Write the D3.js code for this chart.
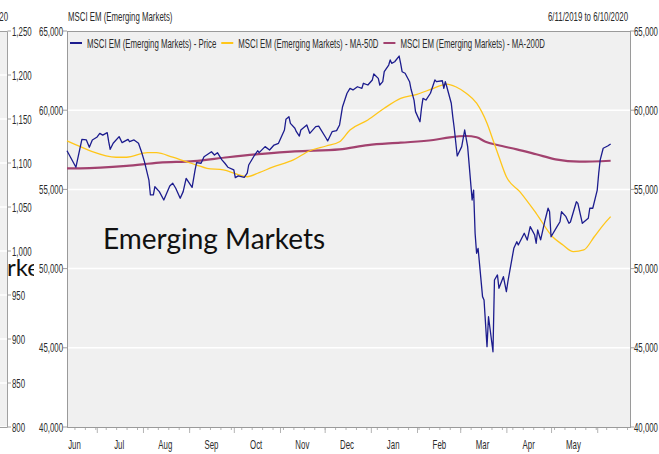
<!DOCTYPE html>
<html>
<head>
<meta charset="utf-8">
<script src="https://cdn.jsdelivr.net/npm/d3@7"></script>
<style>
  body { margin: 0; background: #fff; }
</style>
</head>
<body>
<svg width="659" height="454"></svg>
<script>

// values
var price = [
  ["2019-06-11",57440],["2019-06-17",56400],["2019-06-21",58160],["2019-06-24",58120],["2019-06-26",57660],
  ["2019-06-28",58120],["2019-07-01",58290],["2019-07-03",58540],["2019-07-05",58430],["2019-07-08",58580],
  ["2019-07-09",58010],["2019-07-10",57530],["2019-07-12",57910],["2019-07-16",58330],["2019-07-18",57950],
  ["2019-07-22",58160],["2019-07-23",58010],["2019-07-26",58120],["2019-07-29",57910],["2019-07-31",57380],
  ["2019-08-02",56750],["2019-08-05",55590],["2019-08-06",54650],["2019-08-08",54650],["2019-08-09",55170],
  ["2019-08-12",54860],["2019-08-15",54330],["2019-08-19",55220],["2019-08-21",55390],["2019-08-23",55070],
  ["2019-08-26",54440],["2019-08-28",54860],["2019-08-30",55700],["2019-09-03",55130],["2019-09-05",56230],
  ["2019-09-06",56690],["2019-09-09",56650],["2019-09-11",57060],["2019-09-16",57380],["2019-09-18",57170],
  ["2019-09-20",57320],["2019-09-23",56860],["2019-09-25",56650],["2019-09-27",56400],["2019-10-01",56230],
  ["2019-10-02",55740],["2019-10-04",55850],["2019-10-08",55760],["2019-10-10",56020],["2019-10-11",56540],
  ["2019-10-15",57170],["2019-10-17",57440],["2019-10-18",57320],["2019-10-22",57700],["2019-10-25",57490],
  ["2019-10-28",57800],["2019-10-31",57910],["2019-11-04",58750],["2019-11-05",59430],["2019-11-07",59590],
  ["2019-11-08",59170],["2019-11-11",58860],["2019-11-12",58640],["2019-11-14",58370],["2019-11-15",58750],
  ["2019-11-19",59070],["2019-11-21",58540],["2019-11-25",58960],["2019-11-27",59000],["2019-12-02",58230],
  ["2019-12-03",58060],["2019-12-06",58640],["2019-12-09",58710],["2019-12-11",59070],["2019-12-13",60220],
  ["2019-12-16",61070],["2019-12-18",61380],["2019-12-20",61280],["2019-12-23",61480],["2019-12-26",61380],
  ["2019-12-27",61700],["2019-12-30",61590],["2020-01-02",61910],["2020-01-03",62290],["2020-01-06",62010],
  ["2020-01-07",61590],["2020-01-09",61800],["2020-01-10",62430],["2020-01-13",62850],["2020-01-14",63170],
  ["2020-01-15",62960],["2020-01-17",63060],["2020-01-20",63420],["2020-01-21",62960],["2020-01-22",62430],
  ["2020-01-24",62330],["2020-01-27",61800],["2020-01-28",61320],["2020-01-30",60640],["2020-01-31",59910],
  ["2020-02-03",59270],["2020-02-04",60120],["2020-02-05",60750],["2020-02-07",60640],["2020-02-10",61070],
  ["2020-02-13",61910],["2020-02-14",61800],["2020-02-18",61860],["2020-02-19",61380],["2020-02-20",61800],
  ["2020-02-21",61480],["2020-02-24",60440],["2020-02-25",59590],["2020-02-26",58860],["2020-02-28",57110],
  ["2020-03-02",57700],["2020-03-04",58750],["2020-03-06",57700],["2020-03-09",54330],["2020-03-10",54960],
  ["2020-03-11",52230],["2020-03-12",50970],["2020-03-13",51280],["2020-03-16",48230],["2020-03-17",48020],
  ["2020-03-19",45070],["2020-03-20",46960],["2020-03-23",44750],["2020-03-24",49280],["2020-03-26",49600],
  ["2020-03-27",48760],["2020-03-30",49490],["2020-04-01",48540],["2020-04-02",49170],["2020-04-06",51280],
  ["2020-04-08",51700],["2020-04-09",51490],["2020-04-13",52230],["2020-04-15",51800],["2020-04-17",52650],
  ["2020-04-20",52120],["2020-04-21",51600],["2020-04-22",52440],["2020-04-24",51810],["2020-04-27",53070],
  ["2020-04-29",53810],["2020-04-30",53590],["2020-05-01",52010],["2020-05-05",52650],["2020-05-07",52960],
  ["2020-05-08",53590],["2020-05-11",53280],["2020-05-13",52860],["2020-05-14",52940],["2020-05-18",54220],
  ["2020-05-19",54120],["2020-05-22",52860],["2020-05-26",53180],["2020-05-27",53810],["2020-05-29",53810],
  ["2020-06-01",54960],["2020-06-02",56020],["2020-06-03",56860],["2020-06-05",57600],["2020-06-08",57740],
  ["2020-06-10",57870]
];

var ma50 = [
  ["2019-06-11",58060],["2019-06-20",57700],["2019-06-28",57380],["2019-07-14",57030],["2019-07-21",57030],
  ["2019-08-04",57320],["2019-08-10",57320],["2019-08-21",57030],["2019-08-30",56750],["2019-09-06",56540],
  ["2019-09-13",56330],["2019-09-24",56230],["2019-10-03",55970],["2019-10-10",55800],["2019-10-18",56060],
  ["2019-10-27",56400],["2019-11-10",56860],["2019-11-21",57440],["2019-12-02",57740],["2019-12-11",58010],
  ["2019-12-18",58750],["2019-12-30",59380],["2020-01-10",60120],["2020-01-21",60750],["2020-02-01",61000],
  ["2020-02-12",61380],["2020-02-21",61650],["2020-02-27",61480],["2020-03-05",61070],["2020-03-12",60440],
  ["2020-03-19",59170],["2020-03-23",58120],["2020-03-27",57060],["2020-04-01",55800],["2020-04-10",54860],
  ["2020-04-21",53490],["2020-05-02",52010],["2020-05-09",51490],["2020-05-16",51070],["2020-05-23",51180],
  ["2020-05-30",52010],["2020-06-05",52750],["2020-06-10",53280]
];

var ma200 = [
  ["2019-06-11",56330],["2019-06-20",56330],["2019-07-21",56480],["2019-08-12",56690],["2019-09-04",56790],
  ["2019-09-27",57030],["2019-10-20",57240],["2019-11-11",57400],["2019-12-11",57530],["2019-12-30",57800],
  ["2020-01-21",57950],["2020-02-12",58120],["2020-02-23",58290],["2020-03-05",58370],["2020-03-12",58290],
  ["2020-03-18",58010],["2020-03-26",57800],["2020-04-08",57530],["2020-04-21",57220],["2020-05-04",56900],
  ["2020-05-20",56750],["2020-06-10",56810]
];

var yTicks = [40000, 45000, 50000, 55000, 60000, 65000];
var leftTicks = [800, 850, 900, 950, 1000, 1050, 1100, 1150, 1200, 1250];
var monthLabels = ["Jun", "Jul", "Aug", "Sep", "Oct", "Nov", "Dec", "Jan", "Feb", "Mar", "Apr", "May"];
var seriesNames = ["MSCI EM (Emerging Markets) - Price",
                   "MSCI EM (Emerging Markets) - MA-50D",
                   "MSCI EM (Emerging Markets) - MA-200D"];
var seriesColors = ["#1c1c8e", "#ffc61a", "#a2426f"];

var svg = d3.select("svg"),
    pLeft = 67, pRight = 630, pTop = 31, pBottom = 427;

var parse = d3.timeParse("%Y-%m-%d");
var x = d3.scaleTime().domain([parse("2019-06-11"), parse("2020-06-23")]).range([pLeft, pRight]);
var y = d3.scaleLinear().domain([40000, 65000]).range([pBottom, pTop]);
var yLeft = d3.scaleLinear().domain([800, 1250]).range([pBottom, pTop]);

// condensed label font: squeeze so "65,000" is about 24px wide
var font = "'Liberation Sans Narrow','Liberation Sans',Arial,sans-serif", fs = 13;
var probe = svg.append("text").style("font-family", font).style("font-size", fs + "px").text("65,000");
var k = 24 / probe.node().getComputedTextLength();
probe.remove();

function label(g, px, py, str, anchor) {
  return g.append("text")
      .attr("transform", "translate(" + px + "," + py + ") scale(" + k + ",1)")
      .attr("text-anchor", anchor || "start")
      .style("font-family", font)
      .style("font-size", fs + "px")
      .attr("fill", "#2b2b2b")
      .text(str);
}

// ---- piece of the neighbouring chart on the far left
svg.append("clipPath").attr("id", "strip").append("rect").attr("x", 0).attr("y", 0).attr("width", 34).attr("height", 454);
svg.append("clipPath").attr("id", "word").append("rect").attr("x", 6).attr("y", 0).attr("width", 28).attr("height", 454);
var strip = svg.append("g").attr("clip-path", "url(#strip)");
strip.append("rect").attr("x", 0).attr("y", pTop).attr("width", 7.5).attr("height", pBottom - pTop).attr("fill", "#f0f0f0");
strip.selectAll(".sg").data(leftTicks).enter().append("line")
    .attr("x1", 0).attr("x2", 7).attr("y1", function(d) { return yLeft(d); }).attr("y2", function(d) { return yLeft(d); })
    .attr("stroke", "#fff").attr("stroke-width", 1.5);
strip.append("path").attr("d", "M0," + (pTop + 0.5) + "H7.5V" + (pBottom + 0.5) + "H0")
    .attr("fill", "none").attr("stroke", "#a0a0a0");
strip.selectAll(".st").data(leftTicks).enter().append("line")
    .attr("x1", 7.5).attr("x2", 11).attr("y1", function(d) { return yLeft(d); }).attr("y2", function(d) { return yLeft(d); })
    .attr("stroke", "#a0a0a0");
leftTicks.forEach(function(d) { label(strip, 12, yLeft(d) + 4.5, d3.format(",")(d)); });
label(strip, 8, 21, "6/11/2019 to 6/10/2020", "end");
var mk = svg.append("text").attr("y", 276).attr("clip-path", "url(#word)")
    .style("font-family", "Lato, 'Open Sans', sans-serif").style("font-size", "24px").attr("fill", "#111").text("Markets");
mk.attr("x", 7 - mk.node().getSubStringLength(0, 2));

// ---- main chart
var g = svg.append("g");
g.append("rect").attr("x", pLeft).attr("y", pTop).attr("width", pRight - pLeft).attr("height", pBottom - pTop).attr("fill", "#f0f0f0");

g.selectAll(".grid").data(yTicks.slice(1, -1)).enter().append("line")
    .attr("x1", pLeft).attr("x2", pRight)
    .attr("y1", function(d) { return y(d); }).attr("y2", function(d) { return y(d); })
    .attr("stroke", "#fff").attr("stroke-width", 1.5);

// month ticks, weekly minor ticks
var x0 = x.domain()[0], x1 = x.domain()[1];
g.selectAll(".minor").data(d3.timeWeek.range(x0, x1)).enter().append("line")
    .attr("x1", function(d) { return x(d) + 0.5; }).attr("x2", function(d) { return x(d) + 0.5; })
    .attr("y1", pBottom).attr("y2", pBottom + 3).attr("stroke", "#b4b4b4");
g.selectAll(".major").data(d3.timeMonth.range(x0, x1)).enter().append("line")
    .attr("x1", function(d) { return x(d) + 0.5; }).attr("x2", function(d) { return x(d) + 0.5; })
    .attr("y1", pBottom).attr("y2", pBottom + 6).attr("stroke", "#b4b4b4");
monthLabels.forEach(function(m, i) {
  var mid = d3.timeDay.offset(d3.timeMonth.offset(new Date(2019, 5, 1), i), 15);
  label(g, x(mid), 449, m, "middle");
});

// y axes
yTicks.forEach(function(d) {
  g.append("line").attr("x1", pLeft - 4).attr("x2", pLeft).attr("y1", y(d)).attr("y2", y(d)).attr("stroke", "#a0a0a0");
  g.append("line").attr("x1", pRight).attr("x2", pRight + 4).attr("y1", y(d)).attr("y2", y(d)).attr("stroke", "#a0a0a0");
  label(g, pLeft - 4, y(d) + 4.5, d3.format(",")(d), "end");
  label(g, pRight + 4, y(d) + 4.5, d3.format(",")(d), "start");
});

g.append("rect").attr("x", pLeft + 0.5).attr("y", pTop + 0.5).attr("width", pRight - pLeft).attr("height", pBottom - pTop)
    .attr("fill", "none").attr("stroke", "#9a9a9a");

// series
function prep(arr) { return arr.map(function(d) { return { date: parse(d[0]), v: d[1] }; }); }
var lineLin = d3.line().x(function(d) { return x(d.date); }).y(function(d) { return y(d.v); });
var lineSmooth = d3.line().curve(d3.curveMonotoneX).x(function(d) { return x(d.date); }).y(function(d) { return y(d.v); });

g.append("path").datum(prep(ma200)).attr("d", lineSmooth)
    .attr("fill", "none").attr("stroke", seriesColors[2]).attr("stroke-width", 2.2);
g.append("path").datum(prep(ma50)).attr("d", lineSmooth)
    .attr("fill", "none").attr("stroke", seriesColors[1]).attr("stroke-width", 1.3);
g.append("path").datum(prep(price)).attr("d", lineLin)
    .attr("fill", "none").attr("stroke", seriesColors[0]).attr("stroke-width", 1.3).attr("stroke-linejoin", "round");

// legend
var lx = 70, ly = 43;
seriesNames.forEach(function(name, i) {
  g.append("line").attr("x1", lx).attr("x2", lx + 12).attr("y1", ly).attr("y2", ly)
      .attr("stroke", seriesColors[i]).attr("stroke-width", 2);
  var t = label(g, lx + 17, ly + 4.5, name);
  lx += 17 + t.node().getComputedTextLength() * k + 5;
});

// titles
label(g, 68, 21, "MSCI EM (Emerging Markets)");
label(g, 628, 21, "6/11/2019 to 6/10/2020", "end");

g.append("text").attr("x", 103).attr("y", 249)
    .style("font-family", "Lato, 'Open Sans', sans-serif").style("font-size", "28px").attr("fill", "#111")
    .text("Emerging Markets");

</script>
</body>
</html>
